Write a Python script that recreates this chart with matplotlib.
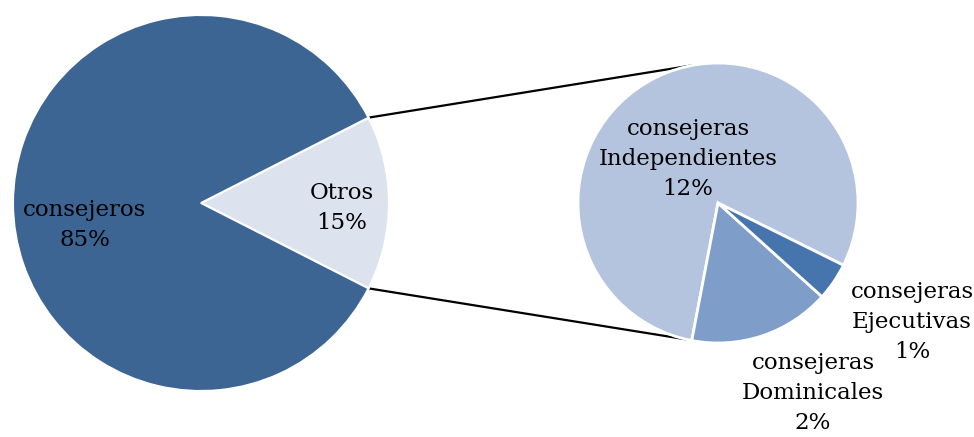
import numpy as np
import matplotlib.pyplot as plt

# main pie
main_labels = ['Otros', 'consejeros']
main_values = [15, 85]
main_pct = ['15%', '85%']

# breakdown of "Otros"
sub_labels = ['consejeras\nIndependientes', 'consejeras\nDominicales', 'consejeras\nEjecutivas']
sub_values = [11.9, 2.45, 0.65]
sub_pct = ['12%', '2%', '1%']

main_colors = ['#DDE3EE', '#3D6594']
sub_colors = ['#B5C4DE', '#7F9DC9', '#4675AE']

W, H = 974, 437
fig = plt.figure(figsize=(W / 100, H / 100), dpi=100)
ax = fig.add_axes([0, 0, 1, 1])

c1, r1 = (201, 234), 188
c2, r2 = (718, 234), 140

start1 = -main_values[0] / sum(main_values) * 360 / 2
ax.pie(main_values, colors=main_colors, startangle=start1, center=c1, radius=r1,
       wedgeprops=dict(edgecolor='white', linewidth=1.5))
ax.pie(sub_values, colors=sub_colors, startangle=-26.4, center=c2, radius=r2,
       wedgeprops=dict(edgecolor='white', linewidth=2))

# connector lines between Otros wedge and the second pie
a1 = np.deg2rad(-start1)
for sgn, a2 in [(1, 100), (-1, -103)]:
    x0 = c1[0] + r1 * np.cos(a1)
    y0 = c1[1] + sgn * r1 * np.sin(a1)
    x1 = c2[0] + r2 * np.cos(np.deg2rad(a2))
    y1 = c2[1] + r2 * np.sin(np.deg2rad(a2))
    ax.plot([x0, x1], [y0, y1], color='black', lw=1.6, zorder=0)

font = dict(family='DejaVu Serif', fontsize=16.5, ha='center', va='center',
            linespacing=1.45, color='black')
label_pos = {
    'Otros': (342, 229),
    'consejeros': (85, 212),
    'consejeras\nIndependientes': (688, 278),
    'consejeras\nDominicales': (813, 44),
    'consejeras\nEjecutivas': (912, 115),
}
for lab, pct in zip(main_labels + sub_labels, main_pct + sub_pct):
    ax.text(*label_pos[lab], lab + '\n' + pct, **font)

ax.set_xlim(0, W)
ax.set_ylim(0, H)
ax.set_aspect('equal')
ax.axis('off')
fig.savefig('out.png', dpi=100, facecolor='white')
